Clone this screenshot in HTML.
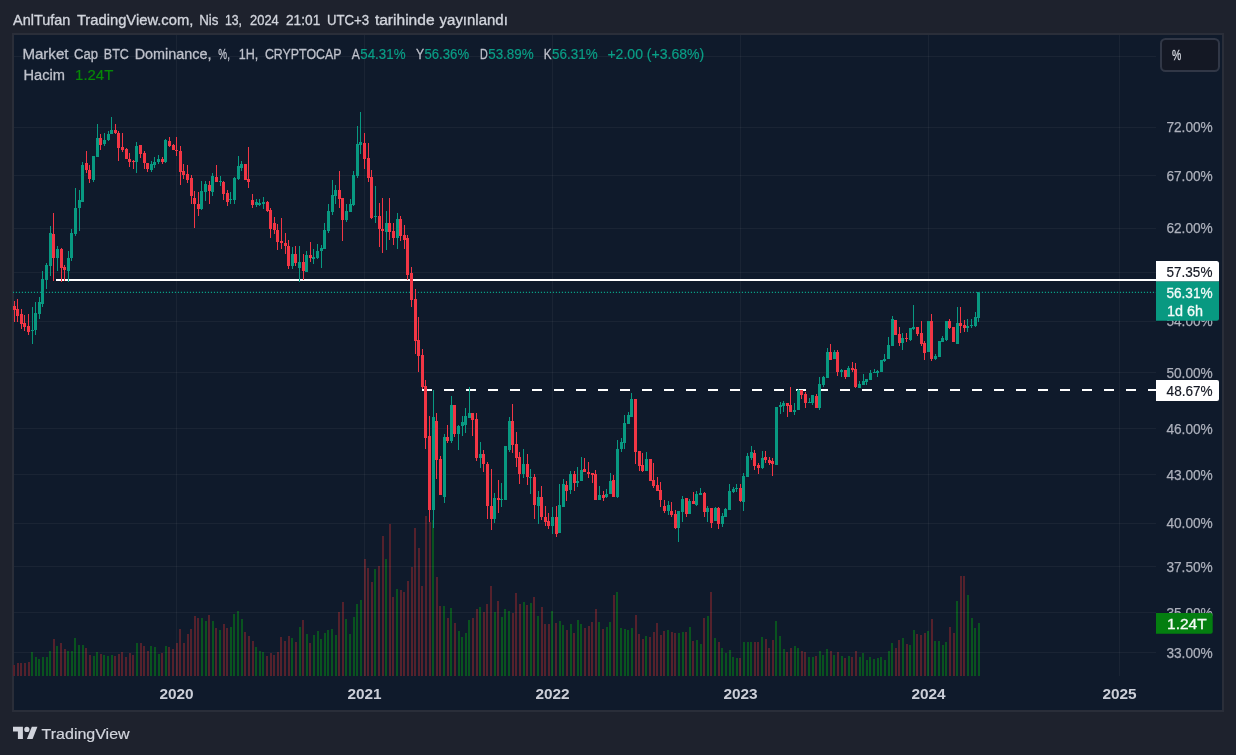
<!DOCTYPE html>
<html lang="tr"><head><meta charset="utf-8"><title>Market Cap BTC Dominance</title>
<style>html,body{margin:0;padding:0;background:#1e222d;width:1236px;height:755px;overflow:hidden}svg{display:block;will-change:transform}text{white-space:pre}</style>
</head><body>
<svg width="1236" height="755" viewBox="0 0 1236 755" font-family="'Liberation Sans', sans-serif" shape-rendering="crispEdges">
<rect x="0" y="0" width="1236" height="755" fill="#1e222d"/>
<rect x="12" y="33" width="1212" height="679" fill="#2a2e39"/>
<rect x="14" y="35" width="1208" height="675" fill="#0f1a2b"/>
<clipPath id="plot"><rect x="13" y="35" width="1209" height="675"/></clipPath>
<g clip-path="url(#plot)">
<g>
<rect x="13" y="665" width="2" height="11" fill="#55212c"/>
<rect x="17" y="663" width="2" height="13" fill="#55212c"/>
<rect x="20" y="663" width="2" height="13" fill="#55212c"/>
<rect x="24" y="663" width="2" height="13" fill="#55212c"/>
<rect x="28" y="662" width="2" height="14" fill="#55212c"/>
<rect x="31" y="652" width="2" height="24" fill="#09531f"/>
<rect x="35" y="657" width="2" height="19" fill="#09531f"/>
<rect x="38" y="659" width="2" height="17" fill="#09531f"/>
<rect x="42" y="657" width="2" height="19" fill="#09531f"/>
<rect x="46" y="657" width="2" height="19" fill="#09531f"/>
<rect x="49" y="651" width="2" height="25" fill="#09531f"/>
<rect x="53" y="639" width="2" height="37" fill="#55212c"/>
<rect x="56" y="646" width="2" height="30" fill="#09531f"/>
<rect x="60" y="643" width="2" height="33" fill="#55212c"/>
<rect x="64" y="649" width="2" height="27" fill="#55212c"/>
<rect x="67" y="651" width="2" height="25" fill="#09531f"/>
<rect x="71" y="651" width="2" height="25" fill="#09531f"/>
<rect x="74" y="638" width="2" height="38" fill="#09531f"/>
<rect x="78" y="645" width="2" height="31" fill="#09531f"/>
<rect x="82" y="645" width="2" height="31" fill="#09531f"/>
<rect x="85" y="648" width="2" height="28" fill="#55212c"/>
<rect x="89" y="655" width="2" height="21" fill="#55212c"/>
<rect x="93" y="656" width="2" height="20" fill="#09531f"/>
<rect x="96" y="652" width="2" height="24" fill="#09531f"/>
<rect x="100" y="654" width="2" height="22" fill="#55212c"/>
<rect x="103" y="655" width="2" height="21" fill="#09531f"/>
<rect x="107" y="656" width="2" height="20" fill="#09531f"/>
<rect x="111" y="655" width="2" height="21" fill="#09531f"/>
<rect x="114" y="656" width="2" height="20" fill="#55212c"/>
<rect x="118" y="654" width="2" height="22" fill="#55212c"/>
<rect x="121" y="652" width="2" height="24" fill="#55212c"/>
<rect x="125" y="657" width="2" height="19" fill="#55212c"/>
<rect x="129" y="653" width="2" height="23" fill="#55212c"/>
<rect x="132" y="655" width="2" height="21" fill="#55212c"/>
<rect x="136" y="643" width="2" height="33" fill="#09531f"/>
<rect x="140" y="643" width="2" height="33" fill="#55212c"/>
<rect x="143" y="646" width="2" height="30" fill="#55212c"/>
<rect x="147" y="651" width="2" height="25" fill="#55212c"/>
<rect x="150" y="646" width="2" height="30" fill="#09531f"/>
<rect x="154" y="647" width="2" height="29" fill="#09531f"/>
<rect x="158" y="654" width="2" height="22" fill="#09531f"/>
<rect x="161" y="653" width="2" height="23" fill="#55212c"/>
<rect x="165" y="646" width="2" height="30" fill="#09531f"/>
<rect x="168" y="647" width="2" height="29" fill="#55212c"/>
<rect x="172" y="649" width="2" height="27" fill="#55212c"/>
<rect x="176" y="643" width="2" height="33" fill="#55212c"/>
<rect x="179" y="629" width="2" height="47" fill="#55212c"/>
<rect x="183" y="643" width="2" height="33" fill="#55212c"/>
<rect x="187" y="634" width="2" height="42" fill="#55212c"/>
<rect x="190" y="629" width="2" height="47" fill="#55212c"/>
<rect x="194" y="616" width="2" height="60" fill="#55212c"/>
<rect x="197" y="618" width="2" height="58" fill="#55212c"/>
<rect x="201" y="618" width="2" height="58" fill="#09531f"/>
<rect x="205" y="621" width="2" height="55" fill="#09531f"/>
<rect x="208" y="615" width="2" height="61" fill="#55212c"/>
<rect x="212" y="621" width="2" height="55" fill="#09531f"/>
<rect x="215" y="628" width="2" height="48" fill="#55212c"/>
<rect x="219" y="630" width="2" height="46" fill="#09531f"/>
<rect x="223" y="624" width="2" height="52" fill="#55212c"/>
<rect x="226" y="628" width="2" height="48" fill="#55212c"/>
<rect x="230" y="627" width="2" height="49" fill="#09531f"/>
<rect x="233" y="614" width="2" height="62" fill="#09531f"/>
<rect x="237" y="611" width="2" height="65" fill="#09531f"/>
<rect x="241" y="619" width="2" height="57" fill="#09531f"/>
<rect x="244" y="632" width="2" height="44" fill="#55212c"/>
<rect x="248" y="636" width="2" height="40" fill="#55212c"/>
<rect x="252" y="641" width="2" height="35" fill="#55212c"/>
<rect x="255" y="647" width="2" height="29" fill="#09531f"/>
<rect x="259" y="651" width="2" height="25" fill="#09531f"/>
<rect x="262" y="652" width="2" height="24" fill="#09531f"/>
<rect x="266" y="656" width="2" height="20" fill="#55212c"/>
<rect x="270" y="653" width="2" height="23" fill="#55212c"/>
<rect x="273" y="655" width="2" height="21" fill="#55212c"/>
<rect x="277" y="652" width="2" height="24" fill="#55212c"/>
<rect x="280" y="637" width="2" height="39" fill="#55212c"/>
<rect x="284" y="641" width="2" height="35" fill="#55212c"/>
<rect x="288" y="636" width="2" height="40" fill="#55212c"/>
<rect x="291" y="638" width="2" height="38" fill="#09531f"/>
<rect x="295" y="642" width="2" height="34" fill="#55212c"/>
<rect x="299" y="627" width="2" height="49" fill="#09531f"/>
<rect x="302" y="620" width="2" height="56" fill="#55212c"/>
<rect x="306" y="634" width="2" height="42" fill="#09531f"/>
<rect x="309" y="643" width="2" height="33" fill="#55212c"/>
<rect x="313" y="635" width="2" height="41" fill="#09531f"/>
<rect x="317" y="631" width="2" height="45" fill="#09531f"/>
<rect x="320" y="639" width="2" height="37" fill="#09531f"/>
<rect x="324" y="633" width="2" height="43" fill="#09531f"/>
<rect x="327" y="630" width="2" height="46" fill="#09531f"/>
<rect x="331" y="629" width="2" height="47" fill="#09531f"/>
<rect x="335" y="635" width="2" height="41" fill="#09531f"/>
<rect x="338" y="612" width="2" height="64" fill="#55212c"/>
<rect x="342" y="602" width="2" height="74" fill="#55212c"/>
<rect x="345" y="619" width="2" height="57" fill="#09531f"/>
<rect x="349" y="634" width="2" height="42" fill="#09531f"/>
<rect x="353" y="617" width="2" height="59" fill="#09531f"/>
<rect x="356" y="604" width="2" height="72" fill="#09531f"/>
<rect x="360" y="600" width="2" height="76" fill="#09531f"/>
<rect x="364" y="559" width="2" height="117" fill="#55212c"/>
<rect x="367" y="568" width="2" height="108" fill="#55212c"/>
<rect x="371" y="582" width="2" height="94" fill="#55212c"/>
<rect x="374" y="569" width="2" height="107" fill="#09531f"/>
<rect x="378" y="566" width="2" height="110" fill="#55212c"/>
<rect x="382" y="536" width="2" height="140" fill="#55212c"/>
<rect x="385" y="559" width="2" height="117" fill="#09531f"/>
<rect x="389" y="524" width="2" height="152" fill="#55212c"/>
<rect x="392" y="597" width="2" height="79" fill="#55212c"/>
<rect x="396" y="589" width="2" height="87" fill="#09531f"/>
<rect x="400" y="590" width="2" height="86" fill="#55212c"/>
<rect x="403" y="592" width="2" height="84" fill="#55212c"/>
<rect x="407" y="581" width="2" height="95" fill="#55212c"/>
<rect x="411" y="567" width="2" height="109" fill="#55212c"/>
<rect x="414" y="528" width="2" height="148" fill="#55212c"/>
<rect x="418" y="548" width="2" height="128" fill="#55212c"/>
<rect x="421" y="586" width="2" height="90" fill="#55212c"/>
<rect x="425" y="516" width="2" height="160" fill="#55212c"/>
<rect x="429" y="522" width="2" height="154" fill="#55212c"/>
<rect x="432" y="520" width="2" height="156" fill="#09531f"/>
<rect x="436" y="577" width="2" height="99" fill="#55212c"/>
<rect x="439" y="606" width="2" height="70" fill="#55212c"/>
<rect x="443" y="606" width="2" height="70" fill="#09531f"/>
<rect x="447" y="618" width="2" height="58" fill="#55212c"/>
<rect x="450" y="608" width="2" height="68" fill="#09531f"/>
<rect x="454" y="623" width="2" height="53" fill="#55212c"/>
<rect x="458" y="631" width="2" height="45" fill="#09531f"/>
<rect x="461" y="637" width="2" height="39" fill="#09531f"/>
<rect x="465" y="633" width="2" height="43" fill="#09531f"/>
<rect x="468" y="620" width="2" height="56" fill="#09531f"/>
<rect x="472" y="618" width="2" height="58" fill="#55212c"/>
<rect x="476" y="609" width="2" height="67" fill="#55212c"/>
<rect x="479" y="607" width="2" height="69" fill="#09531f"/>
<rect x="483" y="612" width="2" height="64" fill="#55212c"/>
<rect x="486" y="604" width="2" height="72" fill="#55212c"/>
<rect x="490" y="586" width="2" height="90" fill="#55212c"/>
<rect x="494" y="612" width="2" height="64" fill="#09531f"/>
<rect x="497" y="601" width="2" height="75" fill="#55212c"/>
<rect x="501" y="617" width="2" height="59" fill="#09531f"/>
<rect x="504" y="609" width="2" height="67" fill="#09531f"/>
<rect x="508" y="611" width="2" height="65" fill="#09531f"/>
<rect x="512" y="613" width="2" height="63" fill="#55212c"/>
<rect x="515" y="593" width="2" height="83" fill="#55212c"/>
<rect x="519" y="604" width="2" height="72" fill="#55212c"/>
<rect x="523" y="602" width="2" height="74" fill="#09531f"/>
<rect x="526" y="605" width="2" height="71" fill="#55212c"/>
<rect x="530" y="603" width="2" height="73" fill="#09531f"/>
<rect x="533" y="597" width="2" height="79" fill="#55212c"/>
<rect x="537" y="616" width="2" height="60" fill="#09531f"/>
<rect x="541" y="607" width="2" height="69" fill="#55212c"/>
<rect x="544" y="624" width="2" height="52" fill="#55212c"/>
<rect x="548" y="624" width="2" height="52" fill="#55212c"/>
<rect x="551" y="611" width="2" height="65" fill="#09531f"/>
<rect x="555" y="623" width="2" height="53" fill="#55212c"/>
<rect x="559" y="621" width="2" height="55" fill="#09531f"/>
<rect x="562" y="625" width="2" height="51" fill="#09531f"/>
<rect x="566" y="630" width="2" height="46" fill="#55212c"/>
<rect x="570" y="624" width="2" height="52" fill="#09531f"/>
<rect x="573" y="633" width="2" height="43" fill="#55212c"/>
<rect x="577" y="620" width="2" height="56" fill="#09531f"/>
<rect x="580" y="624" width="2" height="52" fill="#09531f"/>
<rect x="584" y="628" width="2" height="48" fill="#55212c"/>
<rect x="588" y="626" width="2" height="50" fill="#55212c"/>
<rect x="591" y="622" width="2" height="54" fill="#55212c"/>
<rect x="595" y="609" width="2" height="67" fill="#55212c"/>
<rect x="598" y="622" width="2" height="54" fill="#09531f"/>
<rect x="602" y="629" width="2" height="47" fill="#55212c"/>
<rect x="606" y="627" width="2" height="49" fill="#09531f"/>
<rect x="609" y="622" width="2" height="54" fill="#09531f"/>
<rect x="613" y="595" width="2" height="81" fill="#55212c"/>
<rect x="616" y="592" width="2" height="84" fill="#09531f"/>
<rect x="620" y="628" width="2" height="48" fill="#09531f"/>
<rect x="624" y="629" width="2" height="47" fill="#09531f"/>
<rect x="627" y="630" width="2" height="46" fill="#09531f"/>
<rect x="631" y="628" width="2" height="48" fill="#09531f"/>
<rect x="635" y="615" width="2" height="61" fill="#55212c"/>
<rect x="638" y="634" width="2" height="42" fill="#55212c"/>
<rect x="642" y="639" width="2" height="37" fill="#55212c"/>
<rect x="645" y="636" width="2" height="40" fill="#09531f"/>
<rect x="649" y="637" width="2" height="39" fill="#55212c"/>
<rect x="653" y="632" width="2" height="44" fill="#55212c"/>
<rect x="656" y="623" width="2" height="53" fill="#55212c"/>
<rect x="660" y="635" width="2" height="41" fill="#55212c"/>
<rect x="663" y="631" width="2" height="45" fill="#55212c"/>
<rect x="667" y="630" width="2" height="46" fill="#09531f"/>
<rect x="671" y="632" width="2" height="44" fill="#55212c"/>
<rect x="674" y="633" width="2" height="43" fill="#55212c"/>
<rect x="678" y="633" width="2" height="43" fill="#09531f"/>
<rect x="682" y="632" width="2" height="44" fill="#09531f"/>
<rect x="685" y="632" width="2" height="44" fill="#55212c"/>
<rect x="689" y="627" width="2" height="49" fill="#09531f"/>
<rect x="692" y="641" width="2" height="35" fill="#55212c"/>
<rect x="696" y="640" width="2" height="36" fill="#09531f"/>
<rect x="700" y="644" width="2" height="32" fill="#09531f"/>
<rect x="703" y="618" width="2" height="58" fill="#55212c"/>
<rect x="707" y="616" width="2" height="60" fill="#09531f"/>
<rect x="710" y="592" width="2" height="84" fill="#55212c"/>
<rect x="714" y="638" width="2" height="38" fill="#09531f"/>
<rect x="718" y="642" width="2" height="34" fill="#55212c"/>
<rect x="721" y="648" width="2" height="28" fill="#09531f"/>
<rect x="725" y="653" width="2" height="23" fill="#09531f"/>
<rect x="729" y="650" width="2" height="26" fill="#09531f"/>
<rect x="732" y="657" width="2" height="19" fill="#09531f"/>
<rect x="736" y="658" width="2" height="18" fill="#09531f"/>
<rect x="739" y="658" width="2" height="18" fill="#55212c"/>
<rect x="743" y="642" width="2" height="34" fill="#09531f"/>
<rect x="747" y="642" width="2" height="34" fill="#09531f"/>
<rect x="750" y="642" width="2" height="34" fill="#09531f"/>
<rect x="754" y="642" width="2" height="34" fill="#55212c"/>
<rect x="757" y="642" width="2" height="34" fill="#55212c"/>
<rect x="761" y="637" width="2" height="39" fill="#09531f"/>
<rect x="765" y="639" width="2" height="37" fill="#55212c"/>
<rect x="768" y="648" width="2" height="28" fill="#55212c"/>
<rect x="772" y="640" width="2" height="36" fill="#55212c"/>
<rect x="775" y="621" width="2" height="55" fill="#09531f"/>
<rect x="779" y="636" width="2" height="40" fill="#09531f"/>
<rect x="783" y="649" width="2" height="27" fill="#09531f"/>
<rect x="786" y="652" width="2" height="24" fill="#55212c"/>
<rect x="790" y="648" width="2" height="28" fill="#55212c"/>
<rect x="794" y="646" width="2" height="30" fill="#09531f"/>
<rect x="797" y="648" width="2" height="28" fill="#09531f"/>
<rect x="801" y="651" width="2" height="25" fill="#55212c"/>
<rect x="804" y="652" width="2" height="24" fill="#55212c"/>
<rect x="808" y="657" width="2" height="19" fill="#09531f"/>
<rect x="812" y="657" width="2" height="19" fill="#09531f"/>
<rect x="815" y="656" width="2" height="20" fill="#55212c"/>
<rect x="819" y="651" width="2" height="25" fill="#09531f"/>
<rect x="822" y="655" width="2" height="21" fill="#09531f"/>
<rect x="826" y="649" width="2" height="27" fill="#09531f"/>
<rect x="830" y="651" width="2" height="25" fill="#55212c"/>
<rect x="833" y="655" width="2" height="21" fill="#09531f"/>
<rect x="837" y="652" width="2" height="24" fill="#55212c"/>
<rect x="841" y="656" width="2" height="20" fill="#09531f"/>
<rect x="844" y="658" width="2" height="18" fill="#55212c"/>
<rect x="848" y="656" width="2" height="20" fill="#09531f"/>
<rect x="851" y="657" width="2" height="19" fill="#55212c"/>
<rect x="855" y="651" width="2" height="25" fill="#55212c"/>
<rect x="859" y="657" width="2" height="19" fill="#09531f"/>
<rect x="862" y="653" width="2" height="23" fill="#09531f"/>
<rect x="866" y="660" width="2" height="16" fill="#09531f"/>
<rect x="869" y="657" width="2" height="19" fill="#09531f"/>
<rect x="873" y="659" width="2" height="17" fill="#09531f"/>
<rect x="877" y="658" width="2" height="18" fill="#09531f"/>
<rect x="880" y="657" width="2" height="19" fill="#09531f"/>
<rect x="884" y="660" width="2" height="16" fill="#09531f"/>
<rect x="888" y="651" width="2" height="25" fill="#09531f"/>
<rect x="891" y="643" width="2" height="33" fill="#09531f"/>
<rect x="895" y="648" width="2" height="28" fill="#55212c"/>
<rect x="898" y="640" width="2" height="36" fill="#55212c"/>
<rect x="902" y="638" width="2" height="38" fill="#09531f"/>
<rect x="906" y="644" width="2" height="32" fill="#55212c"/>
<rect x="909" y="645" width="2" height="31" fill="#09531f"/>
<rect x="913" y="630" width="2" height="46" fill="#09531f"/>
<rect x="916" y="634" width="2" height="42" fill="#55212c"/>
<rect x="920" y="635" width="2" height="41" fill="#55212c"/>
<rect x="924" y="633" width="2" height="43" fill="#55212c"/>
<rect x="927" y="631" width="2" height="45" fill="#09531f"/>
<rect x="931" y="619" width="2" height="57" fill="#55212c"/>
<rect x="934" y="641" width="2" height="35" fill="#09531f"/>
<rect x="938" y="641" width="2" height="35" fill="#09531f"/>
<rect x="942" y="645" width="2" height="31" fill="#09531f"/>
<rect x="945" y="642" width="2" height="34" fill="#09531f"/>
<rect x="949" y="627" width="2" height="49" fill="#55212c"/>
<rect x="953" y="633" width="2" height="43" fill="#55212c"/>
<rect x="956" y="601" width="2" height="75" fill="#09531f"/>
<rect x="960" y="576" width="2" height="100" fill="#55212c"/>
<rect x="963" y="576" width="2" height="100" fill="#55212c"/>
<rect x="967" y="595" width="2" height="81" fill="#09531f"/>
<rect x="971" y="618" width="2" height="58" fill="#09531f"/>
<rect x="974" y="628" width="2" height="48" fill="#09531f"/>
<rect x="978" y="623" width="2" height="53" fill="#09531f"/>
</g>
<g fill="#ffffff" fill-opacity="0.047">
<rect x="14" y="56" width="1142" height="1"/>
<rect x="14" y="127" width="1142" height="1"/>
<rect x="14" y="175" width="1142" height="1"/>
<rect x="14" y="228" width="1142" height="1"/>
<rect x="14" y="272" width="1142" height="1"/>
<rect x="14" y="321" width="1142" height="1"/>
<rect x="14" y="372" width="1142" height="1"/>
<rect x="14" y="428" width="1142" height="1"/>
<rect x="14" y="474" width="1142" height="1"/>
<rect x="14" y="523" width="1142" height="1"/>
<rect x="14" y="566" width="1142" height="1"/>
<rect x="14" y="612" width="1142" height="1"/>
<rect x="14" y="652" width="1142" height="1"/>
<rect x="176" y="35" width="1" height="641"/>
<rect x="364" y="35" width="1" height="641"/>
<rect x="552" y="35" width="1" height="641"/>
<rect x="740" y="35" width="1" height="641"/>
<rect x="928" y="35" width="1" height="641"/>
<rect x="1119" y="35" width="1" height="641"/>
</g>
<rect x="56" y="279" width="1100" height="2" fill="#ffffff"/>
<g fill="#ffffff">
<rect x="422" y="389" width="10" height="2"/>
<rect x="444" y="389" width="10" height="2"/>
<rect x="466" y="389" width="10" height="2"/>
<rect x="488" y="389" width="10" height="2"/>
<rect x="510" y="389" width="10" height="2"/>
<rect x="532" y="389" width="10" height="2"/>
<rect x="554" y="389" width="10" height="2"/>
<rect x="576" y="389" width="10" height="2"/>
<rect x="598" y="389" width="10" height="2"/>
<rect x="620" y="389" width="10" height="2"/>
<rect x="642" y="389" width="10" height="2"/>
<rect x="664" y="389" width="10" height="2"/>
<rect x="686" y="389" width="10" height="2"/>
<rect x="708" y="389" width="10" height="2"/>
<rect x="730" y="389" width="10" height="2"/>
<rect x="752" y="389" width="10" height="2"/>
<rect x="774" y="389" width="10" height="2"/>
<rect x="796" y="389" width="10" height="2"/>
<rect x="818" y="389" width="10" height="2"/>
<rect x="840" y="389" width="10" height="2"/>
<rect x="862" y="389" width="10" height="2"/>
<rect x="884" y="389" width="10" height="2"/>
<rect x="906" y="389" width="10" height="2"/>
<rect x="928" y="389" width="10" height="2"/>
<rect x="950" y="389" width="10" height="2"/>
<rect x="972" y="389" width="10" height="2"/>
<rect x="994" y="389" width="10" height="2"/>
<rect x="1016" y="389" width="10" height="2"/>
<rect x="1038" y="389" width="10" height="2"/>
<rect x="1060" y="389" width="10" height="2"/>
<rect x="1082" y="389" width="10" height="2"/>
<rect x="1104" y="389" width="10" height="2"/>
<rect x="1126" y="389" width="10" height="2"/>
<rect x="1148" y="389" width="8" height="2"/>
</g>
<line shape-rendering="geometricPrecision" x1="12.85" y1="292.45" x2="1156" y2="292.45" stroke="#099e85" stroke-width="1.2" stroke-dasharray="1.2 1.8"/>
<g fill="#089981"><rect x="32" y="307" width="1" height="37"/><rect x="31" y="330" width="3" height="1"/><rect x="35" y="302" width="1" height="33"/><rect x="34" y="313" width="3" height="17"/><rect x="39" y="297" width="1" height="22"/><rect x="38" y="302" width="3" height="12"/><rect x="42" y="271" width="1" height="36"/><rect x="41" y="279" width="3" height="25"/><rect x="46" y="263" width="1" height="26"/><rect x="45" y="265" width="3" height="15"/><rect x="50" y="226" width="1" height="50"/><rect x="49" y="233" width="3" height="33"/><rect x="57" y="246" width="1" height="25"/><rect x="56" y="249" width="3" height="9"/><rect x="68" y="251" width="1" height="31"/><rect x="67" y="258" width="3" height="13"/><rect x="71" y="229" width="1" height="32"/><rect x="70" y="233" width="3" height="25"/><rect x="75" y="188" width="1" height="48"/><rect x="74" y="208" width="3" height="26"/><rect x="79" y="190" width="1" height="41"/><rect x="78" y="200" width="3" height="8"/><rect x="82" y="162" width="1" height="40"/><rect x="81" y="165" width="3" height="37"/><rect x="93" y="156" width="1" height="26"/><rect x="92" y="156" width="3" height="24"/><rect x="97" y="124" width="1" height="33"/><rect x="96" y="138" width="3" height="19"/><rect x="104" y="133" width="1" height="13"/><rect x="103" y="140" width="3" height="4"/><rect x="108" y="131" width="1" height="10"/><rect x="107" y="134" width="3" height="6"/><rect x="111" y="117" width="1" height="17"/><rect x="110" y="130" width="3" height="4"/><rect x="136" y="142" width="1" height="31"/><rect x="135" y="146" width="3" height="16"/><rect x="151" y="161" width="1" height="11"/><rect x="150" y="164" width="3" height="6"/><rect x="154" y="157" width="1" height="11"/><rect x="153" y="162" width="3" height="3"/><rect x="158" y="155" width="1" height="9"/><rect x="157" y="159" width="3" height="3"/><rect x="165" y="139" width="1" height="24"/><rect x="164" y="140" width="3" height="22"/><rect x="201" y="181" width="1" height="29"/><rect x="200" y="191" width="3" height="18"/><rect x="205" y="181" width="1" height="20"/><rect x="204" y="184" width="3" height="8"/><rect x="212" y="173" width="1" height="23"/><rect x="211" y="176" width="3" height="16"/><rect x="220" y="176" width="1" height="10"/><rect x="219" y="181" width="3" height="1"/><rect x="230" y="192" width="1" height="12"/><rect x="229" y="199" width="3" height="1"/><rect x="234" y="177" width="1" height="27"/><rect x="233" y="178" width="3" height="22"/><rect x="238" y="156" width="1" height="24"/><rect x="237" y="166" width="3" height="13"/><rect x="241" y="161" width="1" height="10"/><rect x="240" y="164" width="3" height="4"/><rect x="256" y="199" width="1" height="8"/><rect x="255" y="202" width="3" height="3"/><rect x="259" y="199" width="1" height="7"/><rect x="258" y="203" width="3" height="2"/><rect x="263" y="197" width="1" height="12"/><rect x="262" y="202" width="3" height="2"/><rect x="292" y="247" width="1" height="22"/><rect x="291" y="254" width="3" height="12"/><rect x="299" y="246" width="1" height="36"/><rect x="298" y="262" width="3" height="6"/><rect x="306" y="251" width="1" height="21"/><rect x="305" y="255" width="3" height="17"/><rect x="313" y="249" width="1" height="15"/><rect x="312" y="257" width="3" height="2"/><rect x="317" y="244" width="1" height="15"/><rect x="316" y="251" width="3" height="7"/><rect x="321" y="245" width="1" height="23"/><rect x="320" y="248" width="3" height="3"/><rect x="324" y="223" width="1" height="26"/><rect x="323" y="230" width="3" height="19"/><rect x="328" y="204" width="1" height="29"/><rect x="327" y="211" width="3" height="20"/><rect x="332" y="180" width="1" height="35"/><rect x="331" y="195" width="3" height="17"/><rect x="335" y="185" width="1" height="19"/><rect x="334" y="190" width="3" height="6"/><rect x="346" y="204" width="1" height="18"/><rect x="345" y="211" width="3" height="9"/><rect x="350" y="199" width="1" height="13"/><rect x="349" y="204" width="3" height="8"/><rect x="353" y="171" width="1" height="35"/><rect x="352" y="175" width="3" height="30"/><rect x="357" y="126" width="1" height="52"/><rect x="356" y="144" width="3" height="32"/><rect x="360" y="112" width="1" height="42"/><rect x="359" y="142" width="3" height="3"/><rect x="375" y="186" width="1" height="37"/><rect x="374" y="216" width="3" height="1"/><rect x="386" y="211" width="1" height="39"/><rect x="385" y="223" width="3" height="9"/><rect x="397" y="213" width="1" height="36"/><rect x="396" y="219" width="3" height="19"/><rect x="433" y="390" width="1" height="138"/><rect x="432" y="417" width="3" height="93"/><rect x="444" y="434" width="1" height="69"/><rect x="443" y="437" width="3" height="60"/><rect x="451" y="396" width="1" height="47"/><rect x="450" y="405" width="3" height="36"/><rect x="458" y="425" width="1" height="25"/><rect x="457" y="426" width="3" height="8"/><rect x="462" y="416" width="1" height="20"/><rect x="461" y="422" width="3" height="4"/><rect x="465" y="408" width="1" height="25"/><rect x="464" y="416" width="3" height="9"/><rect x="469" y="387" width="1" height="31"/><rect x="468" y="413" width="3" height="5"/><rect x="480" y="442" width="1" height="26"/><rect x="479" y="454" width="3" height="4"/><rect x="494" y="493" width="1" height="30"/><rect x="493" y="498" width="3" height="21"/><rect x="501" y="483" width="1" height="24"/><rect x="500" y="499" width="3" height="1"/><rect x="505" y="446" width="1" height="54"/><rect x="504" y="446" width="3" height="54"/><rect x="509" y="417" width="1" height="35"/><rect x="508" y="421" width="3" height="29"/><rect x="523" y="449" width="1" height="29"/><rect x="522" y="464" width="3" height="10"/><rect x="530" y="469" width="1" height="25"/><rect x="529" y="477" width="3" height="1"/><rect x="538" y="491" width="1" height="33"/><rect x="537" y="497" width="3" height="9"/><rect x="552" y="507" width="1" height="27"/><rect x="551" y="517" width="3" height="9"/><rect x="559" y="484" width="1" height="49"/><rect x="558" y="505" width="3" height="28"/><rect x="563" y="479" width="1" height="28"/><rect x="562" y="484" width="3" height="23"/><rect x="570" y="471" width="1" height="23"/><rect x="569" y="474" width="3" height="16"/><rect x="577" y="467" width="1" height="20"/><rect x="576" y="481" width="3" height="2"/><rect x="581" y="457" width="1" height="24"/><rect x="580" y="470" width="3" height="11"/><rect x="599" y="486" width="1" height="14"/><rect x="598" y="495" width="3" height="5"/><rect x="606" y="489" width="1" height="9"/><rect x="605" y="494" width="3" height="3"/><rect x="610" y="473" width="1" height="21"/><rect x="609" y="481" width="3" height="13"/><rect x="617" y="440" width="1" height="58"/><rect x="616" y="449" width="3" height="48"/><rect x="621" y="438" width="1" height="14"/><rect x="620" y="442" width="3" height="7"/><rect x="624" y="415" width="1" height="34"/><rect x="623" y="423" width="3" height="20"/><rect x="628" y="412" width="1" height="12"/><rect x="627" y="415" width="3" height="9"/><rect x="631" y="393" width="1" height="24"/><rect x="630" y="399" width="3" height="18"/><rect x="646" y="452" width="1" height="19"/><rect x="645" y="459" width="3" height="12"/><rect x="668" y="501" width="1" height="14"/><rect x="667" y="505" width="3" height="6"/><rect x="678" y="511" width="1" height="31"/><rect x="677" y="511" width="3" height="17"/><rect x="682" y="496" width="1" height="26"/><rect x="681" y="499" width="3" height="13"/><rect x="689" y="499" width="1" height="15"/><rect x="688" y="501" width="3" height="13"/><rect x="696" y="491" width="1" height="15"/><rect x="695" y="494" width="3" height="11"/><rect x="700" y="488" width="1" height="7"/><rect x="699" y="493" width="3" height="2"/><rect x="707" y="506" width="1" height="16"/><rect x="706" y="508" width="3" height="4"/><rect x="715" y="507" width="1" height="14"/><rect x="714" y="508" width="3" height="13"/><rect x="722" y="513" width="1" height="14"/><rect x="721" y="516" width="3" height="8"/><rect x="725" y="508" width="1" height="9"/><rect x="724" y="509" width="3" height="8"/><rect x="729" y="484" width="1" height="26"/><rect x="728" y="491" width="3" height="19"/><rect x="733" y="487" width="1" height="6"/><rect x="732" y="489" width="3" height="3"/><rect x="736" y="484" width="1" height="8"/><rect x="735" y="488" width="3" height="1"/><rect x="743" y="473" width="1" height="38"/><rect x="742" y="476" width="3" height="26"/><rect x="747" y="453" width="1" height="24"/><rect x="746" y="456" width="3" height="21"/><rect x="751" y="446" width="1" height="14"/><rect x="750" y="452" width="3" height="6"/><rect x="762" y="451" width="1" height="18"/><rect x="761" y="458" width="3" height="10"/><rect x="776" y="407" width="1" height="58"/><rect x="775" y="407" width="3" height="58"/><rect x="780" y="402" width="1" height="12"/><rect x="779" y="405" width="3" height="2"/><rect x="783" y="401" width="1" height="11"/><rect x="782" y="403" width="3" height="3"/><rect x="794" y="403" width="1" height="12"/><rect x="793" y="410" width="3" height="2"/><rect x="798" y="389" width="1" height="21"/><rect x="797" y="390" width="3" height="20"/><rect x="809" y="398" width="1" height="5"/><rect x="808" y="402" width="3" height="1"/><rect x="812" y="395" width="1" height="10"/><rect x="811" y="395" width="3" height="8"/><rect x="819" y="377" width="1" height="33"/><rect x="818" y="384" width="3" height="24"/><rect x="823" y="376" width="1" height="11"/><rect x="822" y="377" width="3" height="8"/><rect x="827" y="348" width="1" height="30"/><rect x="826" y="352" width="3" height="26"/><rect x="834" y="350" width="1" height="9"/><rect x="833" y="352" width="3" height="7"/><rect x="841" y="369" width="1" height="8"/><rect x="840" y="370" width="3" height="2"/><rect x="848" y="366" width="1" height="11"/><rect x="847" y="368" width="3" height="9"/><rect x="859" y="381" width="1" height="7"/><rect x="858" y="384" width="3" height="4"/><rect x="863" y="374" width="1" height="11"/><rect x="862" y="381" width="3" height="4"/><rect x="866" y="379" width="1" height="6"/><rect x="865" y="379" width="3" height="3"/><rect x="870" y="370" width="1" height="10"/><rect x="869" y="373" width="3" height="7"/><rect x="874" y="369" width="1" height="4"/><rect x="873" y="372" width="3" height="1"/><rect x="877" y="370" width="1" height="7"/><rect x="876" y="371" width="3" height="2"/><rect x="881" y="360" width="1" height="12"/><rect x="880" y="360" width="3" height="12"/><rect x="884" y="354" width="1" height="8"/><rect x="883" y="359" width="3" height="2"/><rect x="888" y="337" width="1" height="22"/><rect x="887" y="345" width="3" height="14"/><rect x="892" y="316" width="1" height="30"/><rect x="891" y="319" width="3" height="27"/><rect x="902" y="333" width="1" height="17"/><rect x="901" y="338" width="3" height="5"/><rect x="910" y="328" width="1" height="13"/><rect x="909" y="328" width="3" height="12"/><rect x="913" y="305" width="1" height="25"/><rect x="912" y="327" width="3" height="2"/><rect x="928" y="321" width="1" height="31"/><rect x="927" y="321" width="3" height="31"/><rect x="935" y="354" width="1" height="6"/><rect x="934" y="356" width="3" height="3"/><rect x="939" y="341" width="1" height="16"/><rect x="938" y="341" width="3" height="16"/><rect x="942" y="336" width="1" height="6"/><rect x="941" y="338" width="3" height="4"/><rect x="946" y="321" width="1" height="20"/><rect x="945" y="321" width="3" height="19"/><rect x="957" y="307" width="1" height="37"/><rect x="956" y="323" width="3" height="21"/><rect x="967" y="319" width="1" height="13"/><rect x="966" y="326" width="3" height="2"/><rect x="971" y="319" width="1" height="9"/><rect x="970" y="325" width="3" height="1"/><rect x="975" y="312" width="1" height="15"/><rect x="974" y="317" width="3" height="9"/><rect x="978" y="292" width="1" height="30"/><rect x="977" y="292" width="3" height="26"/></g>
<g fill="#f23645"><rect x="14" y="301" width="1" height="21"/><rect x="13" y="306" width="3" height="4"/><rect x="17" y="299" width="1" height="23"/><rect x="16" y="309" width="3" height="7"/><rect x="21" y="309" width="1" height="20"/><rect x="20" y="314" width="3" height="10"/><rect x="24" y="315" width="1" height="16"/><rect x="23" y="323" width="3" height="4"/><rect x="28" y="314" width="1" height="21"/><rect x="27" y="326" width="3" height="6"/><rect x="53" y="213" width="1" height="68"/><rect x="52" y="234" width="3" height="24"/><rect x="61" y="248" width="1" height="34"/><rect x="60" y="249" width="3" height="19"/><rect x="64" y="265" width="1" height="16"/><rect x="63" y="267" width="3" height="3"/><rect x="86" y="151" width="1" height="22"/><rect x="85" y="163" width="3" height="7"/><rect x="89" y="165" width="1" height="18"/><rect x="88" y="170" width="3" height="9"/><rect x="100" y="134" width="1" height="16"/><rect x="99" y="138" width="3" height="7"/><rect x="115" y="124" width="1" height="10"/><rect x="114" y="130" width="3" height="3"/><rect x="118" y="131" width="1" height="30"/><rect x="117" y="133" width="3" height="15"/><rect x="122" y="133" width="1" height="19"/><rect x="121" y="147" width="3" height="3"/><rect x="126" y="148" width="1" height="11"/><rect x="125" y="149" width="3" height="10"/><rect x="129" y="153" width="1" height="14"/><rect x="128" y="159" width="3" height="3"/><rect x="133" y="160" width="1" height="9"/><rect x="132" y="161" width="3" height="1"/><rect x="140" y="145" width="1" height="13"/><rect x="139" y="145" width="3" height="9"/><rect x="144" y="151" width="1" height="18"/><rect x="143" y="153" width="3" height="10"/><rect x="147" y="163" width="1" height="9"/><rect x="146" y="163" width="3" height="6"/><rect x="162" y="157" width="1" height="7"/><rect x="161" y="159" width="3" height="3"/><rect x="169" y="137" width="1" height="10"/><rect x="168" y="141" width="3" height="5"/><rect x="173" y="144" width="1" height="6"/><rect x="172" y="145" width="3" height="5"/><rect x="176" y="137" width="1" height="19"/><rect x="175" y="150" width="3" height="1"/><rect x="180" y="146" width="1" height="39"/><rect x="179" y="151" width="3" height="21"/><rect x="183" y="164" width="1" height="15"/><rect x="182" y="171" width="3" height="4"/><rect x="187" y="165" width="1" height="18"/><rect x="186" y="174" width="3" height="6"/><rect x="191" y="175" width="1" height="29"/><rect x="190" y="178" width="3" height="18"/><rect x="194" y="191" width="1" height="37"/><rect x="193" y="198" width="3" height="6"/><rect x="198" y="192" width="1" height="24"/><rect x="197" y="204" width="3" height="5"/><rect x="209" y="181" width="1" height="23"/><rect x="208" y="185" width="3" height="6"/><rect x="216" y="165" width="1" height="17"/><rect x="215" y="177" width="3" height="5"/><rect x="223" y="181" width="1" height="19"/><rect x="222" y="182" width="3" height="12"/><rect x="227" y="190" width="1" height="16"/><rect x="226" y="193" width="3" height="9"/><rect x="245" y="164" width="1" height="16"/><rect x="244" y="164" width="3" height="16"/><rect x="248" y="147" width="1" height="41"/><rect x="247" y="179" width="3" height="3"/><rect x="252" y="194" width="1" height="14"/><rect x="251" y="200" width="3" height="5"/><rect x="267" y="201" width="1" height="11"/><rect x="266" y="202" width="3" height="9"/><rect x="270" y="208" width="1" height="30"/><rect x="269" y="210" width="3" height="19"/><rect x="274" y="217" width="1" height="17"/><rect x="273" y="223" width="3" height="7"/><rect x="277" y="224" width="1" height="26"/><rect x="276" y="230" width="3" height="12"/><rect x="281" y="218" width="1" height="31"/><rect x="280" y="241" width="3" height="2"/><rect x="285" y="233" width="1" height="21"/><rect x="284" y="243" width="3" height="3"/><rect x="288" y="240" width="1" height="29"/><rect x="287" y="246" width="3" height="20"/><rect x="295" y="246" width="1" height="20"/><rect x="294" y="254" width="3" height="9"/><rect x="303" y="254" width="1" height="26"/><rect x="302" y="262" width="3" height="9"/><rect x="310" y="242" width="1" height="20"/><rect x="309" y="255" width="3" height="3"/><rect x="339" y="171" width="1" height="37"/><rect x="338" y="190" width="3" height="9"/><rect x="342" y="198" width="1" height="43"/><rect x="341" y="198" width="3" height="22"/><rect x="364" y="133" width="1" height="36"/><rect x="363" y="143" width="3" height="16"/><rect x="368" y="143" width="1" height="39"/><rect x="367" y="158" width="3" height="20"/><rect x="371" y="170" width="1" height="49"/><rect x="370" y="177" width="3" height="41"/><rect x="379" y="203" width="1" height="44"/><rect x="378" y="216" width="3" height="13"/><rect x="382" y="198" width="1" height="55"/><rect x="381" y="229" width="3" height="2"/><rect x="389" y="198" width="1" height="42"/><rect x="388" y="223" width="3" height="9"/><rect x="393" y="223" width="1" height="22"/><rect x="392" y="231" width="3" height="7"/><rect x="400" y="216" width="1" height="25"/><rect x="399" y="219" width="3" height="17"/><rect x="404" y="225" width="1" height="24"/><rect x="403" y="235" width="3" height="5"/><rect x="407" y="235" width="1" height="45"/><rect x="406" y="238" width="3" height="37"/><rect x="411" y="267" width="1" height="40"/><rect x="410" y="273" width="3" height="27"/><rect x="415" y="289" width="1" height="65"/><rect x="414" y="299" width="3" height="42"/><rect x="418" y="317" width="1" height="55"/><rect x="417" y="340" width="3" height="16"/><rect x="422" y="349" width="1" height="40"/><rect x="421" y="355" width="3" height="32"/><rect x="425" y="380" width="1" height="69"/><rect x="424" y="386" width="3" height="52"/><rect x="429" y="416" width="1" height="106"/><rect x="428" y="436" width="3" height="74"/><rect x="436" y="413" width="1" height="66"/><rect x="435" y="421" width="3" height="39"/><rect x="440" y="456" width="1" height="39"/><rect x="439" y="459" width="3" height="36"/><rect x="447" y="425" width="1" height="18"/><rect x="446" y="437" width="3" height="4"/><rect x="454" y="405" width="1" height="32"/><rect x="453" y="405" width="3" height="29"/><rect x="472" y="413" width="1" height="23"/><rect x="471" y="413" width="3" height="7"/><rect x="476" y="413" width="1" height="48"/><rect x="475" y="419" width="3" height="39"/><rect x="483" y="450" width="1" height="22"/><rect x="482" y="454" width="3" height="10"/><rect x="487" y="462" width="1" height="57"/><rect x="486" y="464" width="3" height="42"/><rect x="491" y="469" width="1" height="61"/><rect x="490" y="506" width="3" height="13"/><rect x="498" y="480" width="1" height="33"/><rect x="497" y="498" width="3" height="2"/><rect x="512" y="404" width="1" height="49"/><rect x="511" y="421" width="3" height="24"/><rect x="516" y="432" width="1" height="35"/><rect x="515" y="444" width="3" height="14"/><rect x="519" y="452" width="1" height="32"/><rect x="518" y="457" width="3" height="17"/><rect x="527" y="454" width="1" height="31"/><rect x="526" y="464" width="3" height="13"/><rect x="534" y="474" width="1" height="45"/><rect x="533" y="477" width="3" height="28"/><rect x="541" y="486" width="1" height="34"/><rect x="540" y="497" width="3" height="20"/><rect x="545" y="506" width="1" height="20"/><rect x="544" y="517" width="3" height="5"/><rect x="548" y="513" width="1" height="16"/><rect x="547" y="521" width="3" height="5"/><rect x="556" y="506" width="1" height="31"/><rect x="555" y="517" width="3" height="17"/><rect x="566" y="481" width="1" height="20"/><rect x="565" y="485" width="3" height="6"/><rect x="574" y="471" width="1" height="20"/><rect x="573" y="474" width="3" height="9"/><rect x="584" y="458" width="1" height="14"/><rect x="583" y="469" width="3" height="3"/><rect x="588" y="462" width="1" height="16"/><rect x="587" y="472" width="3" height="2"/><rect x="592" y="473" width="1" height="10"/><rect x="591" y="473" width="3" height="2"/><rect x="595" y="470" width="1" height="30"/><rect x="594" y="474" width="3" height="26"/><rect x="603" y="491" width="1" height="10"/><rect x="602" y="495" width="3" height="3"/><rect x="613" y="475" width="1" height="22"/><rect x="612" y="480" width="3" height="17"/><rect x="635" y="399" width="1" height="65"/><rect x="634" y="399" width="3" height="53"/><rect x="639" y="451" width="1" height="20"/><rect x="638" y="451" width="3" height="15"/><rect x="642" y="453" width="1" height="19"/><rect x="641" y="465" width="3" height="6"/><rect x="650" y="459" width="1" height="22"/><rect x="649" y="459" width="3" height="22"/><rect x="653" y="463" width="1" height="25"/><rect x="652" y="480" width="3" height="6"/><rect x="657" y="477" width="1" height="14"/><rect x="656" y="485" width="3" height="6"/><rect x="660" y="482" width="1" height="25"/><rect x="659" y="490" width="3" height="10"/><rect x="664" y="500" width="1" height="13"/><rect x="663" y="506" width="3" height="5"/><rect x="671" y="502" width="1" height="15"/><rect x="670" y="511" width="3" height="4"/><rect x="675" y="510" width="1" height="19"/><rect x="674" y="514" width="3" height="14"/><rect x="686" y="498" width="1" height="19"/><rect x="685" y="498" width="3" height="16"/><rect x="693" y="492" width="1" height="12"/><rect x="692" y="501" width="3" height="3"/><rect x="704" y="492" width="1" height="25"/><rect x="703" y="493" width="3" height="19"/><rect x="711" y="508" width="1" height="20"/><rect x="710" y="508" width="3" height="15"/><rect x="718" y="507" width="1" height="22"/><rect x="717" y="508" width="3" height="16"/><rect x="740" y="484" width="1" height="18"/><rect x="739" y="488" width="3" height="13"/><rect x="754" y="450" width="1" height="20"/><rect x="753" y="453" width="3" height="13"/><rect x="758" y="463" width="1" height="11"/><rect x="757" y="465" width="3" height="3"/><rect x="765" y="451" width="1" height="12"/><rect x="764" y="457" width="3" height="3"/><rect x="769" y="457" width="1" height="8"/><rect x="768" y="460" width="3" height="3"/><rect x="772" y="458" width="1" height="18"/><rect x="771" y="461" width="3" height="3"/><rect x="787" y="403" width="1" height="14"/><rect x="786" y="403" width="3" height="3"/><rect x="790" y="387" width="1" height="25"/><rect x="789" y="405" width="3" height="7"/><rect x="801" y="390" width="1" height="9"/><rect x="800" y="390" width="3" height="5"/><rect x="805" y="392" width="1" height="16"/><rect x="804" y="394" width="3" height="9"/><rect x="816" y="394" width="1" height="14"/><rect x="815" y="396" width="3" height="12"/><rect x="830" y="344" width="1" height="16"/><rect x="829" y="352" width="3" height="8"/><rect x="837" y="350" width="1" height="26"/><rect x="836" y="352" width="3" height="20"/><rect x="845" y="370" width="1" height="9"/><rect x="844" y="370" width="3" height="7"/><rect x="852" y="362" width="1" height="10"/><rect x="851" y="368" width="3" height="2"/><rect x="855" y="363" width="1" height="25"/><rect x="854" y="369" width="3" height="18"/><rect x="895" y="320" width="1" height="15"/><rect x="894" y="320" width="3" height="15"/><rect x="899" y="327" width="1" height="19"/><rect x="898" y="334" width="3" height="9"/><rect x="906" y="333" width="1" height="9"/><rect x="905" y="338" width="3" height="1"/><rect x="917" y="327" width="1" height="9"/><rect x="916" y="327" width="3" height="7"/><rect x="921" y="321" width="1" height="25"/><rect x="920" y="333" width="3" height="11"/><rect x="924" y="341" width="1" height="19"/><rect x="923" y="343" width="3" height="10"/><rect x="931" y="314" width="1" height="47"/><rect x="930" y="321" width="3" height="38"/><rect x="949" y="319" width="1" height="10"/><rect x="948" y="321" width="3" height="7"/><rect x="953" y="327" width="1" height="15"/><rect x="952" y="327" width="3" height="15"/><rect x="960" y="307" width="1" height="26"/><rect x="959" y="323" width="3" height="3"/><rect x="964" y="320" width="1" height="12"/><rect x="963" y="325" width="3" height="3"/></g>
</g>
<text x="1166.4" y="132.0" font-size="15.3" fill="#adb1bc" textLength="46.4" lengthAdjust="spacingAndGlyphs" stroke="#adb1bc" stroke-width="0.25">72.00%</text>
<text x="1166.4" y="180.8" font-size="15.3" fill="#adb1bc" textLength="46.4" lengthAdjust="spacingAndGlyphs" stroke="#adb1bc" stroke-width="0.25">67.00%</text>
<text x="1166.4" y="232.8" font-size="15.3" fill="#adb1bc" textLength="46.4" lengthAdjust="spacingAndGlyphs" stroke="#adb1bc" stroke-width="0.25">62.00%</text>
<text x="1166.4" y="325.6" font-size="15.3" fill="#adb1bc" textLength="46.4" lengthAdjust="spacingAndGlyphs" stroke="#adb1bc" stroke-width="0.25">54.00%</text>
<text x="1166.4" y="377.9" font-size="15.3" fill="#adb1bc" textLength="46.4" lengthAdjust="spacingAndGlyphs" stroke="#adb1bc" stroke-width="0.25">50.00%</text>
<text x="1166.4" y="433.9" font-size="15.3" fill="#adb1bc" textLength="46.4" lengthAdjust="spacingAndGlyphs" stroke="#adb1bc" stroke-width="0.25">46.00%</text>
<text x="1166.4" y="479.8" font-size="15.3" fill="#adb1bc" textLength="46.4" lengthAdjust="spacingAndGlyphs" stroke="#adb1bc" stroke-width="0.25">43.00%</text>
<text x="1166.4" y="528.0" font-size="15.3" fill="#adb1bc" textLength="46.4" lengthAdjust="spacingAndGlyphs" stroke="#adb1bc" stroke-width="0.25">40.00%</text>
<text x="1166.4" y="572.3" font-size="15.3" fill="#adb1bc" textLength="46.4" lengthAdjust="spacingAndGlyphs" stroke="#adb1bc" stroke-width="0.25">37.50%</text>
<text x="1166.4" y="618.0" font-size="15.3" fill="#adb1bc" textLength="46.4" lengthAdjust="spacingAndGlyphs" stroke="#adb1bc" stroke-width="0.25">35.00%</text>
<text x="1166.4" y="657.8" font-size="15.3" fill="#adb1bc" textLength="46.4" lengthAdjust="spacingAndGlyphs" stroke="#adb1bc" stroke-width="0.25">33.00%</text>
<path shape-rendering="geometricPrecision" d="M1156 261h60.5a2.5 2.5 0 0 1 2.5 2.5v18.1h-63z" fill="#ffffff"/>
<text x="1166.6" y="276.7" font-size="15.3" fill="#131722" textLength="45.8" lengthAdjust="spacingAndGlyphs" stroke="#131722" stroke-width="0.2">57.35%</text>
<path shape-rendering="geometricPrecision" d="M1156 281.6h63v36.7a2.5 2.5 0 0 1 -2.5 2.5h-60.5z" fill="#089981"/>
<text x="1166.4" y="297.7" font-size="15.3" fill="#f4fbfa" textLength="46.2" lengthAdjust="spacingAndGlyphs" stroke="#f4fbfa" stroke-width="0.3">56.31%</text>
<text x="1167" y="315.9" font-size="15.3" fill="#f4fbfa" textLength="36" lengthAdjust="spacingAndGlyphs" stroke="#f4fbfa" stroke-width="0.3">1d 6h</text>
<path shape-rendering="geometricPrecision" d="M1156 380h61a2 2 0 0 1 2 2v17.1a2 2 0 0 1 -2 2h-61z" fill="#ffffff"/>
<text x="1166.6" y="395.9" font-size="15.3" fill="#131722" textLength="46" lengthAdjust="spacingAndGlyphs" stroke="#131722" stroke-width="0.2">48.67%</text>
<path shape-rendering="geometricPrecision" d="M1156 613h54.7a2 2 0 0 1 2 2v16.8a2 2 0 0 1 -2 2h-54.7z" fill="#047e10"/>
<text x="1167.1" y="628.8" font-size="15.3" fill="#f4fbf4" textLength="39.6" lengthAdjust="spacingAndGlyphs" stroke="#f4fbf4" stroke-width="0.35">1.24T</text>
<rect shape-rendering="geometricPrecision" x="1161" y="39" width="58" height="32" rx="4.5" fill="#141824" stroke="#313746" stroke-width="2"/>
<text x="1171.9" y="60.3" font-size="15.5" fill="#d1d4dc" textLength="9.3" lengthAdjust="spacingAndGlyphs" stroke="#d1d4dc" stroke-width="0.3">%</text>
<text x="159.4" y="699" font-size="14.6" fill="#cbced7" textLength="34.2" lengthAdjust="spacingAndGlyphs" font-weight="bold" >2020</text>
<text x="347.4" y="699" font-size="14.6" fill="#cbced7" textLength="34.2" lengthAdjust="spacingAndGlyphs" font-weight="bold" >2021</text>
<text x="535.4" y="699" font-size="14.6" fill="#cbced7" textLength="34.2" lengthAdjust="spacingAndGlyphs" font-weight="bold" >2022</text>
<text x="723.4" y="699" font-size="14.6" fill="#cbced7" textLength="34.2" lengthAdjust="spacingAndGlyphs" font-weight="bold" >2023</text>
<text x="911.4" y="699" font-size="14.6" fill="#cbced7" textLength="34.2" lengthAdjust="spacingAndGlyphs" font-weight="bold" >2024</text>
<text x="1102.4" y="699" font-size="14.6" fill="#cbced7" textLength="34.2" lengthAdjust="spacingAndGlyphs" font-weight="bold" >2025</text>
<text x="13.1" y="24.7" font-size="15.2" fill="#d1d4dc" textLength="57.2" lengthAdjust="spacingAndGlyphs" stroke="#d1d4dc" stroke-width="0.35">AnlTufan</text>
<text x="76.9" y="24.7" font-size="15.2" fill="#d1d4dc" textLength="116.4" lengthAdjust="spacingAndGlyphs" stroke="#d1d4dc" stroke-width="0.35">TradingView.com,</text>
<text x="199.2" y="24.7" font-size="15.2" fill="#d1d4dc" textLength="19.2" lengthAdjust="spacingAndGlyphs" stroke="#d1d4dc" stroke-width="0.35">Nis</text>
<text x="225" y="24.7" font-size="15.2" fill="#d1d4dc" textLength="17" lengthAdjust="spacingAndGlyphs" stroke="#d1d4dc" stroke-width="0.35">13,</text>
<text x="250" y="24.7" font-size="15.2" fill="#d1d4dc" textLength="28.8" lengthAdjust="spacingAndGlyphs" stroke="#d1d4dc" stroke-width="0.35">2024</text>
<text x="286" y="24.7" font-size="15.2" fill="#d1d4dc" textLength="34.3" lengthAdjust="spacingAndGlyphs" stroke="#d1d4dc" stroke-width="0.35">21:01</text>
<text x="326.9" y="24.7" font-size="15.2" fill="#d1d4dc" textLength="42.1" lengthAdjust="spacingAndGlyphs" stroke="#d1d4dc" stroke-width="0.35">UTC+3</text>
<text x="374.9" y="24.7" font-size="15.2" fill="#d1d4dc" textLength="59.7" lengthAdjust="spacingAndGlyphs" stroke="#d1d4dc" stroke-width="0.35">tarihinde</text>
<text x="439.6" y="24.7" font-size="15.2" fill="#d1d4dc" textLength="68.2" lengthAdjust="spacingAndGlyphs" stroke="#d1d4dc" stroke-width="0.35">yayınlandı</text>
<text x="22.4" y="58.9" font-size="15.3" fill="#bec1cb" textLength="46.1" lengthAdjust="spacingAndGlyphs" stroke="#bec1cb" stroke-width="0.3">Market</text>
<text x="74.1" y="58.9" font-size="15.3" fill="#bec1cb" textLength="23.9" lengthAdjust="spacingAndGlyphs" stroke="#bec1cb" stroke-width="0.3">Cap</text>
<text x="103.8" y="58.9" font-size="15.3" fill="#bec1cb" textLength="25.0" lengthAdjust="spacingAndGlyphs" stroke="#bec1cb" stroke-width="0.3">BTC</text>
<text x="134.7" y="58.9" font-size="15.3" fill="#bec1cb" textLength="76.9" lengthAdjust="spacingAndGlyphs" stroke="#bec1cb" stroke-width="0.3">Dominance,</text>
<text x="218.3" y="58.9" font-size="15.3" fill="#bec1cb" textLength="11.6" lengthAdjust="spacingAndGlyphs" stroke="#bec1cb" stroke-width="0.3">%,</text>
<text x="238.7" y="58.9" font-size="15.3" fill="#bec1cb" textLength="19.5" lengthAdjust="spacingAndGlyphs" stroke="#bec1cb" stroke-width="0.3">1H,</text>
<text x="264.9" y="58.9" font-size="15.3" fill="#bec1cb" textLength="76.6" lengthAdjust="spacingAndGlyphs" stroke="#bec1cb" stroke-width="0.3">CRYPTOCAP</text>
<text x="351.7" y="58.9" font-size="15.3" fill="#bec1cb" textLength="8.1" lengthAdjust="spacingAndGlyphs" stroke="#bec1cb" stroke-width="0.3">A</text>
<text x="360.3" y="58.9" font-size="15.3" fill="#0a9e86" textLength="45.2" lengthAdjust="spacingAndGlyphs" stroke="#0a9e86" stroke-width="0.2">54.31%</text>
<text x="415.9" y="58.9" font-size="15.3" fill="#bec1cb" textLength="8.1" lengthAdjust="spacingAndGlyphs" stroke="#bec1cb" stroke-width="0.3">Y</text>
<text x="424.5" y="58.9" font-size="15.3" fill="#0a9e86" textLength="44.6" lengthAdjust="spacingAndGlyphs" stroke="#0a9e86" stroke-width="0.2">56.36%</text>
<text x="479.9" y="58.9" font-size="15.3" fill="#bec1cb" textLength="7.8" lengthAdjust="spacingAndGlyphs" stroke="#bec1cb" stroke-width="0.3">D</text>
<text x="488.2" y="58.9" font-size="15.3" fill="#0a9e86" textLength="45.5" lengthAdjust="spacingAndGlyphs" stroke="#0a9e86" stroke-width="0.2">53.89%</text>
<text x="543.8" y="58.9" font-size="15.3" fill="#bec1cb" textLength="7.8" lengthAdjust="spacingAndGlyphs" stroke="#bec1cb" stroke-width="0.3">K</text>
<text x="552.1" y="58.9" font-size="15.3" fill="#0a9e86" textLength="45.5" lengthAdjust="spacingAndGlyphs" stroke="#0a9e86" stroke-width="0.2">56.31%</text>
<text x="607.4" y="58.9" font-size="15.3" fill="#0a9e86" textLength="96.9" lengthAdjust="spacingAndGlyphs" stroke="#0a9e86" stroke-width="0.2">+2.00 (+3.68%)</text>
<text x="23.5" y="79.9" font-size="15.3" fill="#bec1cb" textLength="41.5" lengthAdjust="spacingAndGlyphs" stroke="#bec1cb" stroke-width="0.3">Hacim</text>
<text x="75.1" y="79.9" font-size="15.3" fill="#078807" textLength="38.2" lengthAdjust="spacingAndGlyphs" stroke="#078807" stroke-width="0.2">1.24T</text>
<g fill="#d1d4dc" shape-rendering="geometricPrecision">
<path d="M13 726.8h9.9v12.2h-5v-7.4h-4.9z"/>
<circle cx="26.85" cy="729.4" r="2.6"/>
<path d="M31.8 726.8h5.6l-4.8 12.2h-5.7z"/>
</g>
<text x="41.6" y="738.8" font-size="15" fill="#d1d4dc" textLength="88" lengthAdjust="spacingAndGlyphs" stroke="#d1d4dc" stroke-width="0.2">TradingView</text>
</svg>
</body></html>
